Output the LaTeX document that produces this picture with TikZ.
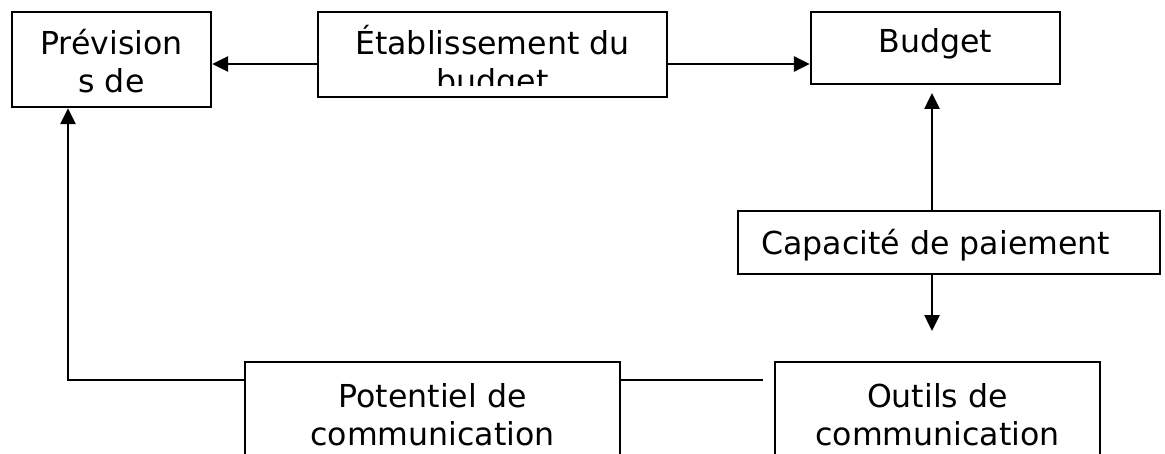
\documentclass[tikz,border=0pt]{standalone}
\usepackage{fontspec}
\setmainfont{DejaVu Sans}
\usepackage{tikz}
\usetikzlibrary{arrows.meta,positioning,fit}
\tikzset{
  flowbox/.style={draw=black, line width=1.2pt, inner sep=0pt},
  flowtext/.style={align=center, inner sep=0pt, font=\fontsize{15.8}{19}\selectfont},
  flowline/.style={-{Triangle[length=8pt,width=7.5pt]}, line width=1.3pt},
  flowplain/.style={line width=1.3pt}
}

\begin{document}
\begin{tikzpicture}[x=0.5pt, y=-0.5pt]
  \clip (0,0) rectangle (1165,454);
  % top row
  \node[flowbox, fit={(12,12) (211,107)}] (prev) {};
  \node[flowbox, fit={(318,12) (667,97)}] (etab) {};
  \node[flowbox, fit={(811,12) (1060,84)}] (budget) {};
  \begin{scope}
    \clip (14,14) rectangle (209,105);
    \node[flowtext, anchor=base] (prevtext) at (111.5,93) {Prévision\\s de};
  \end{scope}
  \begin{scope}
    \clip (320,14) rectangle (665,86);
    \node[flowtext, anchor=base] (etabtext) at (492.5,93) {Établissement du\\budget};
  \end{scope}
  \node[flowtext, anchor=base] (budgettext) at (935.5,53) {Budget};
  % middle
  \node[flowbox, fit={(738,211) (1160,274)}] (cap) {};
  \node[flowtext, anchor=base west] (captext) at (761,254) {Capacité de paiement};
  % bottom row
  \node[flowbox, fit={(245,362) (620,480)}] (pot) {};
  \node[flowbox, fit={(775,362) (1100,480)}] (outils) {};
  \node[flowtext, anchor=base] (pottext) at (432.5,445) {Potentiel de\\communication};
  \node[flowtext, anchor=base] (outilstext) at (937.5,445) {Outils de\\communication};
  % free ends
  \coordinate (budgetin) at (932,93);
  \coordinate (outilsin) at (932,331);
  \coordinate (potend) at (763,380);
  % connectors
  \draw[flowline] ([yshift=-4.75pt]etab.west) -- ([yshift=-4.75pt]etab.west -| prev.east);
  \draw[flowline] ([yshift=-4.75pt]etab.east) -- ([yshift=-4.75pt]etab.east -| budget.west);
  \draw[flowline] (cap.north -| budgetin) -- (budgetin);
  \draw[flowline] (cap.south -| outilsin) -- (outilsin);
  \draw[flowline] (pot.west |- potend) -| ([xshift=-21.75pt]prev.south);
  \draw[flowplain] (pot.east |- potend) -- (potend);
\end{tikzpicture}
\end{document}
